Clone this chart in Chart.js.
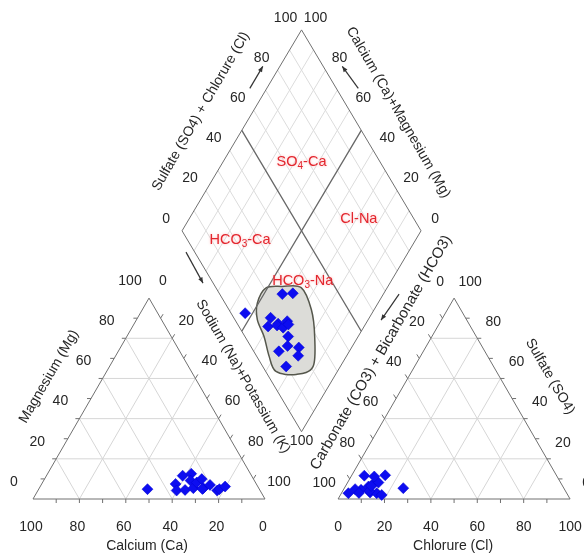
<!DOCTYPE html>
<html>
<head>
<meta charset="utf-8">
<style>
  html, body { margin: 0; padding: 0; background: #ffffff; overflow: hidden; }
  canvas { display: block; }
</style>
<script src="https://cdn.jsdelivr.net/npm/chart.js@4.4.1/dist/chart.umd.min.js"></script>
</head>
<body>
<canvas id="piper" width="584" height="558"></canvas>
<script>
// ---- Sample compositions (% of meq/L) ----
const calcium   = [48.2, 34.8, 29.7, 36.0, 25.5, 27.5, 32.2, 28.2, 25.3, 22.3, 23.9, 20.2, 18.5, 17.2, 14.1, 24.5];
const magnesium = [ 4.9,  7.5, 11.6,  4.2, 12.6,  9.2,  4.5,  5.4,  8.2,  9.9,  5.4,  7.0,  4.2,  4.9,  6.2,  5.0];
const sulfate   = [ 2.9, 11.8,  3.2,  4.6,  5.4, 11.6,  6.2,  7.0,  8.2, 11.2,  2.9,  4.0,  4.9,  2.0,  6.5,  3.0];
const chloride  = [ 3.0, 14.4, 12.2,  7.6, 25.4,  5.5, 10.0, 11.2, 13.3, 10.0, 15.2, 11.5,  4.9, 17.8, 11.0,  7.5];

// Envelope of the main group in the diamond: SO4+Cl and Ca+Mg (%)
const envelopeAnions  = [20.8, 28.1, 35.7, 34.5, 29.2, 21.0, 12.0,  4.3,  5.2,  8.0,  9.4, 13.5];
const envelopeCations = [50.7, 44.2, 36.0, 26.3, 18.2, 11.4, 16.5, 25.7, 32.3, 39.4, 46.4, 50.5];

const tickValues = [0, 20, 40, 60, 80, 100];

// ---- Diagram layout (triangle side = 100 units) ----
const H  = 86.6;               // triangle height
const RX = 131.5;              // left vertex of the anion triangle
const DX = (100 + RX) / 2;     // diamond centre line
const DY = 29.0;               // diamond bottom vertex height
const DW = 51.5, DH = 86.6;    // diamond half width / half height
const UNIT = 2.32;             // px per unit

const sodiumPotassium = calcium.map((c, i) => 100 - c - magnesium[i]);
const anionSum  = sulfate.map((s, i) => s + chloride[i]);
const cationSum = calcium.map((c, i) => c + magnesium[i]);

function cationXY(na, mg) { return { x: na + mg / 2, y: mg * H / 100 }; }
function anionXY(cl, so4) { return { x: RX + cl + so4 / 2, y: so4 * H / 100 }; }
function diamondXY(a, c)  { return { x: DX + DW * (a - c) / 100, y: DY + DH * (a + c) / 100 }; }

const cationPts  = sodiumPotassium.map((n, i) => cationXY(n, magnesium[i]));
const anionPts   = chloride.map((cl, i) => anionXY(cl, sulfate[i]));
const diamondPts = anionSum.map((a, i) => diamondXY(a, cationSum[i]));

const FONT = "'Liberation Sans', Arial, sans-serif";
const INK = '#262626';

const piperFrame = {
  id: 'piperFrame',
  beforeDatasetsDraw(chart) {
    const ctx = chart.ctx;
    const sx = chart.scales.x, sy = chart.scales.y;
    const P = p => [sx.getPixelForValue(p.x), sy.getPixelForValue(p.y)];

    const seg = (a, b, color, w) => {
      const [x1, y1] = P(a), [x2, y2] = P(b);
      ctx.beginPath();
      ctx.moveTo(x1, y1); ctx.lineTo(x2, y2);
      ctx.strokeStyle = color; ctx.lineWidth = w; ctx.stroke();
    };
    const poly = (pts, color, w) => {
      ctx.beginPath();
      pts.forEach((p, i) => { const [x, y] = P(p); i ? ctx.lineTo(x, y) : ctx.moveTo(x, y); });
      ctx.closePath();
      ctx.strokeStyle = color; ctx.lineWidth = w; ctx.stroke();
    };
    const text = (str, p, dx, dy) => {
      const [x, y] = P(p);
      ctx.font = '14px ' + FONT;
      ctx.fillStyle = INK;
      ctx.textAlign = 'center'; ctx.textBaseline = 'middle';
      ctx.fillText(str, x + dx, y + dy);
    };
    const rotText = (str, p, dx, dy, deg, size) => {
      const [x, y] = P(p);
      ctx.save();
      ctx.translate(x + dx, y + dy);
      ctx.rotate(deg * Math.PI / 180);
      ctx.font = (size || 14) + 'px ' + FONT;
      ctx.fillStyle = INK;
      ctx.textAlign = 'center'; ctx.textBaseline = 'middle';
      ctx.fillText(str, 0, 0);
      ctx.restore();
    };
    const arrow = (p, x1, y1, x2, y2) => {
      const [bx, by] = P(p);
      const ax = bx + x1, ay = by + y1, cx = bx + x2, cy = by + y2;
      ctx.beginPath(); ctx.moveTo(ax, ay); ctx.lineTo(cx, cy);
      ctx.strokeStyle = '#333'; ctx.lineWidth = 1.2; ctx.stroke();
      const ang = Math.atan2(cy - ay, cx - ax), L = 6;
      ctx.beginPath();
      ctx.moveTo(cx, cy);
      ctx.lineTo(cx - L * Math.cos(ang - 0.4), cy - L * Math.sin(ang - 0.4));
      ctx.lineTo(cx - L * Math.cos(ang + 0.4), cy - L * Math.sin(ang + 0.4));
      ctx.closePath(); ctx.fillStyle = '#333'; ctx.fill();
    };

    ctx.save();
    ctx.lineCap = 'butt';

    // diamond grid (10 %)
    for (let v = 10; v < 100; v += 10) {
      if (v === 50) continue;
      seg(diamondXY(v, 0), diamondXY(v, 100), '#dcdcdc', 1);
      seg(diamondXY(0, v), diamondXY(100, v), '#dcdcdc', 1);
    }
    // triangle grids (20 %)
    for (let v = 20; v < 100; v += 20) {
      seg(cationXY(0, v), cationXY(100 - v, v), '#d6d6d6', 1);
      seg(cationXY(v, 0), cationXY(v, 100 - v), '#d6d6d6', 1);
      seg(cationXY(100 - v, 0), cationXY(0, 100 - v), '#d6d6d6', 1);
      seg(anionXY(0, v), anionXY(100 - v, v), '#d6d6d6', 1);
      seg(anionXY(v, 0), anionXY(v, 100 - v), '#d6d6d6', 1);
      seg(anionXY(100 - v, 0), anionXY(0, 100 - v), '#d6d6d6', 1);
    }

    // envelope of the sample group
    const env = envelopeAnions.map((a, i) => P(diamondXY(a, envelopeCations[i])));
    ctx.beginPath();
    const n = env.length;
    ctx.moveTo(env[0][0], env[0][1]);
    for (let i = 0; i < n; i++) {
      const p0 = env[(i - 1 + n) % n], p1 = env[i], p2 = env[(i + 1) % n], p3 = env[(i + 2) % n];
      ctx.bezierCurveTo(
        p1[0] + (p2[0] - p0[0]) / 6, p1[1] + (p2[1] - p0[1]) / 6,
        p2[0] - (p3[0] - p1[0]) / 6, p2[1] - (p3[1] - p1[1]) / 6,
        p2[0], p2[1]);
    }
    ctx.closePath();
    ctx.fillStyle = '#dcdcd8';
    ctx.fill();
    ctx.strokeStyle = '#55574c'; ctx.lineWidth = 1.5; ctx.stroke();

    // outlines
    const EDGE = '#707070';
    poly([cationXY(0, 0), cationXY(100, 0), cationXY(0, 100)], EDGE, 1);
    poly([anionXY(0, 0), anionXY(100, 0), anionXY(0, 100)], EDGE, 1);
    poly([diamondXY(0, 0), diamondXY(100, 0), diamondXY(100, 100), diamondXY(0, 100)], EDGE, 1);
    seg(diamondXY(50, 0), diamondXY(50, 100), '#666666', 1.3);
    seg(diamondXY(0, 50), diamondXY(100, 50), '#666666', 1.3);

    // ticks every 10 %
    const tick = (p, dx, dy) => {
      const [x, y] = P(p);
      ctx.beginPath(); ctx.moveTo(x, y); ctx.lineTo(x + dx, y + dy);
      ctx.strokeStyle = EDGE; ctx.lineWidth = 1; ctx.stroke();
    };
    for (let v = 10; v < 100; v += 10) {
      tick(cationXY(v, 0), 0, 4);
      tick(cationXY(0, v), -4, 0);
      tick(cationXY(v, 100 - v), 2.5, -4);
      tick(anionXY(v, 0), 0, 4);
      tick(anionXY(0, v), -2.5, -4);
      tick(anionXY(100 - v, v), 4, 0);
    }

    // tick labels
    tickValues.forEach(v => {
      text(String(v), cationXY(0, v), -19, -17);             // Mg
      text(String(v), cationXY(v, 100 - v), 14, -17);        // Na+K
      text(String(v), cationXY(100 - v, 0), -2, 28);         // Ca
      text(String(v), anionXY(0, 100 - v), -14, -16);        // HCO3
      text(String(v), anionXY(100 - v, v), 16, -16);         // SO4
      text(String(v), anionXY(v, 0), 0, 28);                 // Cl
      text(String(v), diamondXY(v, 100), -16, -12);          // SO4+Cl
      text(String(v), diamondXY(100, v), 14, -12);           // Ca+Mg
    });
    text('100', diamondXY(0, 0), 0, 9);

    // axis titles
    text('Calcium (Ca)', cationXY(50, 0), -2, 47);
    text('Chlorure (Cl)', anionXY(50, 0), -1, 47);
    rotText('Magnesium (Mg)', cationXY(0, 50), -42, -22, -60);
    rotText('Sodium (Na)+Potassium (K)', cationXY(50, 50), 36, -22, 60);
    rotText('Carbonate (CO3) + Bicarbonate (HCO3)', anionXY(0, 50), -15, -46, -60, 15);
    rotText('Sulfate (SO4)', anionXY(50, 50), 38, -22, 60);
    rotText('Sulfate (SO4) + Chlorure (Cl)', diamondXY(50, 100), -41, -19, -60);
    rotText('Calcium (Ca)+Magnesium (Mg)', diamondXY(100, 50), 37, -18, 60);

    // direction arrows
    arrow(cationXY(0, 100), 37, -46, 54, -15);
    arrow(anionXY(0, 100), -55, -4, -73, 22);
    arrow(diamondXY(50, 100), 8, -42, 21, -64);
    arrow(diamondXY(100, 50), -3, -42, -19, -64);

    // water-type labels
    const chem = (parts, p) => {
      const [x, y] = P(p);
      ctx.save();
      ctx.fillStyle = '#e3262e';
      ctx.shadowColor = 'rgba(255,170,170,0.8)';
      ctx.shadowBlur = 3;
      ctx.textBaseline = 'middle'; ctx.textAlign = 'left';
      let w = 0;
      parts.forEach(([s, sub]) => { ctx.font = (sub ? 10 : 14.5) + 'px ' + FONT; w += ctx.measureText(s).width; });
      let cx = x - w / 2;
      parts.forEach(([s, sub]) => {
        ctx.font = (sub ? 10 : 14.5) + 'px ' + FONT;
        ctx.fillText(s, cx, y + (sub ? 4 : 0));
        cx += ctx.measureText(s).width;
      });
      ctx.restore();
    };
    chem([['SO', 0], ['4', 1], ['-Ca', 0]], diamondXY(67, 67));
    chem([['Cl-Na', 0]], diamondXY(77, 29));
    chem([['HCO', 0], ['3', 1], ['-Ca', 0]], diamondXY(22, 73.5));
    chem([['HCO', 0], ['3', 1], ['-Na', 0]], diamondXY(38, 37));

    ctx.restore();
  }
};

const pointStyle = {
  pointStyle: 'rectRot',
  pointRadius: 5.5,
  backgroundColor: '#0d0df0',
  borderColor: '#0000d0',
  borderWidth: 0.5,
  showLine: false
};

new Chart(document.getElementById('piper'), {
  type: 'scatter',
  data: {
    datasets: [
      Object.assign({ label: 'Cations', data: cationPts }, pointStyle),
      Object.assign({ label: 'Anions', data: anionPts }, pointStyle),
      Object.assign({ label: 'Diamond', data: diamondPts }, pointStyle)
    ]
  },
  options: {
    responsive: false,
    animation: false,
    devicePixelRatio: 1,
    layout: { padding: 0, autoPadding: false },
    scales: {
      x: { type: 'linear', display: false, min: -33 / UNIT, max: 551 / UNIT },
      y: { type: 'linear', display: false, min: -59 / UNIT, max: 499 / UNIT }
    },
    plugins: { legend: { display: false }, tooltip: { enabled: false } }
  },
  plugins: [piperFrame]
});
</script>
</body>
</html>
